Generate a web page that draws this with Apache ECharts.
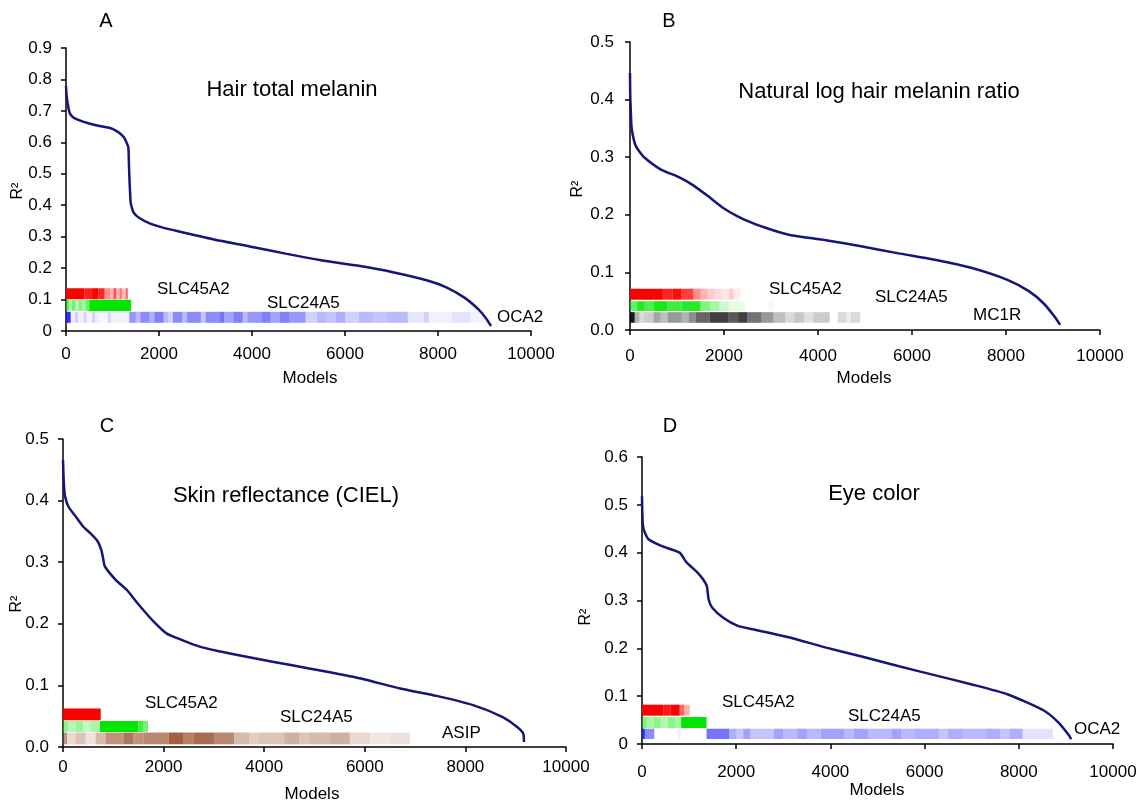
<!DOCTYPE html>
<html>
<head>
<meta charset="utf-8">
<script src="https://cdn.jsdelivr.net/npm/echarts@6/dist/echarts.min.js"></script>
<style>html,body{margin:0;padding:0;background:#fff}#chart{width:1141px;height:805px}</style>
</head>
<body>
<div id="chart"></div>
<script>
// ---------- DATA ----------
// Curves: [model rank, R²]
const curveA = [[0,0.78],[15,0.745],[40,0.72],[75,0.695],[150,0.68],[290,0.67],[500,0.66],[720,0.652],[900,0.647],[1000,0.643],[1150,0.63],[1250,0.615],[1300,0.6],[1340,0.585],[1350,0.55],[1360,0.5],[1375,0.45],[1390,0.41],[1420,0.39],[1460,0.375],[1570,0.36],[1800,0.342],[2030,0.331],[2410,0.317],[3180,0.291],[3950,0.269],[4720,0.246],[5490,0.225],[6260,0.208],[7030,0.187],[7790,0.16],[8180,0.139],[8560,0.107],[8870,0.069],[9020,0.043],[9140,0.016]];
const curveB = [[0,0.446],[5,0.406],[15,0.385],[30,0.355],[60,0.338],[110,0.322],[180,0.312],[300,0.3],[650,0.279],[1050,0.265],[1330,0.252],[1650,0.233],[2000,0.211],[2300,0.197],[2625,0.185],[3012,0.174],[3398,0.165],[4170,0.156],[4942,0.145],[5714,0.133],[6486,0.122],[7259,0.108],[8031,0.087],[8494,0.067],[8803,0.046],[9035,0.023],[9151,0.009]];
const curveC = [[0,0.466],[10,0.44],[20,0.423],[40,0.407],[109,0.39],[254,0.374],[399,0.358],[543,0.347],[688,0.334],[761,0.32],[800,0.305],[833,0.293],[1051,0.271],[1268,0.255],[1486,0.233],[1775,0.206],[2065,0.184],[2355,0.174],[2717,0.163],[3080,0.156],[3804,0.144],[4529,0.133],[5254,0.122],[5978,0.11],[6703,0.095],[7428,0.083],[8152,0.068],[8732,0.049],[9022,0.033],[9150,0.022],[9165,0.008]];
const curveD = [[0,0.518],[5,0.49],[20,0.456],[60,0.442],[139,0.428],[410,0.414],[797,0.4],[951,0.379],[1183,0.358],[1299,0.344],[1377,0.33],[1415,0.302],[1493,0.285],[1725,0.264],[2034,0.247],[2343,0.24],[3117,0.223],[3890,0.202],[4664,0.183],[5437,0.163],[6210,0.144],[6984,0.125],[7757,0.104],[8530,0.07],[8840,0.045],[9072,0.017],[9110,0.01]];

// Gene bands: [start model, end model, intensity]
const bandA_SLC45A2 = [[0,400,1],[400,560,0.88],[560,700,1],[700,830,0.85],[830,950,0.45],[950,1020,0.3],[1020,1080,0.7],[1080,1150,0.3],[1150,1200,0.55],[1200,1280,0.25],[1280,1330,0.6]];
const bandA_SLC24A5 = [[0,60,0.7],[60,130,0.3],[130,200,0.55],[200,280,0.3],[280,350,0.5],[350,420,0.35],[420,500,0.6],[500,1400,1]];
const bandA_OCA2 = [[0,100,0.9],[100,200,0.08],[200,260,0.2],[260,380,0.06],[380,440,0.18],[440,560,0.05],[560,620,0.2],[620,700,0.08],[700,900,0.04],[900,960,0.18],[960,1360,0.06],[1360,1500,0.45],[1500,1600,0.3],[1600,1800,0.5],[1800,1900,0.35],[1900,2100,0.55],[2100,2200,0.3],[2200,2300,0.2],[2300,2500,0.5],[2500,2600,0.3],[2600,2900,0.5],[2900,3000,0.25],[3000,3300,0.5],[3300,3400,0.6],[3400,3600,0.4],[3600,3800,0.55],[3800,3900,0.3],[3900,4200,0.45],[4200,4400,0.55],[4400,4600,0.4],[4600,4800,0.55],[4800,5150,0.45],[5150,5400,0.2],[5400,5600,0.3],[5600,5800,0.25],[5800,6000,0.35],[6000,6300,0.2],[6300,6600,0.3],[6600,6900,0.25],[6900,7350,0.3],[7350,7700,0.1],[7700,7800,0.2],[7800,8300,0.06],[8300,8700,0.12],[8700,9000,0.05]];
const bandB_SLC45A2 = [[0,700,1],[700,900,0.85],[900,1100,0.95],[1100,1350,0.75],[1350,1500,0.45],[1500,1650,0.3],[1650,1800,0.2],[1800,1950,0.15],[1950,2100,0.1],[2100,2200,0.2],[2200,2350,0.08]];
const bandB_SLC24A5 = [[0,150,0.6],[150,300,0.85],[300,500,0.7],[500,800,0.9],[800,1100,0.75],[1100,1500,0.85],[1500,1700,0.5],[1700,1900,0.35],[1900,2100,0.2],[2100,2450,0.1],[2950,3050,0.08]];
const bandB_MC1R = [[0,100,0.9],[100,200,0.3],[200,300,0.15],[300,500,0.2],[500,650,0.35],[650,800,0.25],[800,1100,0.4],[1100,1250,0.3],[1250,1400,0.45],[1400,1700,0.6],[1700,2100,0.75],[2100,2300,0.65],[2300,2500,0.75],[2500,2800,0.55],[2800,3050,0.4],[3050,3300,0.25],[3300,3500,0.15],[3500,3700,0.22],[3700,3900,0.12],[3900,4250,0.2],[4420,4600,0.15],[4600,4700,0.08],[4700,4900,0.15]];
const bandC_SLC45A2 = [[0,750,1]];
const bandC_SLC24A5 = [[0,100,0.45],[100,250,0.3],[250,400,0.4],[400,550,0.25],[550,735,0.35],[735,1500,1],[1500,1600,0.75],[1600,1690,0.55]];
const bandC_ASIP = [[0,80,0.55],[80,250,0.2],[250,450,0.3],[450,650,0.15],[650,850,0.35],[850,1200,0.55],[1200,1400,0.7],[1400,1600,0.55],[1600,2100,0.6],[2100,2400,0.8],[2400,2600,0.65],[2600,3000,0.75],[3000,3400,0.6],[3400,3700,0.35],[3700,3900,0.25],[3900,4400,0.3],[4400,4700,0.4],[4700,4900,0.3],[4900,5300,0.35],[5300,5700,0.4],[5700,6100,0.2],[6100,6500,0.12],[6500,6900,0.15]];
const bandD_SLC45A2 = [[0,450,1],[450,600,0.9],[600,800,1],[800,900,0.6],[900,1015,0.3]];
const bandD_SLC24A5 = [[0,100,0.5],[100,250,0.35],[250,400,0.45],[400,550,0.3],[550,700,0.45],[700,830,0.35],[830,1370,1]];
const bandD_OCA2 = [[0,60,0.9],[60,260,0.5],[760,820,0.08],[1370,1850,0.6],[1850,2000,0.35],[2000,2150,0.25],[2150,2300,0.4],[2300,2800,0.25],[2800,3000,0.4],[3000,3300,0.3],[3300,3500,0.4],[3500,3800,0.3],[3800,4300,0.4],[4300,4500,0.3],[4500,4800,0.4],[4800,5300,0.3],[5300,5500,0.4],[5500,5800,0.3],[5800,6300,0.35],[6300,6500,0.25],[6500,6800,0.35],[6800,7300,0.3],[7300,7600,0.35],[7600,7800,0.25],[7800,8080,0.35],[8080,8720,0.12]];

const panelLetters = ['A','B','C','D'];
const panelTitles = ['Hair total melanin','Natural log hair melanin ratio','Skin reflectance (CIEL)','Eye color'];
const yMax = [0.9, 0.5, 0.5, 0.6];
const xLabel = 'Models';
const yLabel = 'R²';

// ---------- LAYOUT / STYLE ----------
const FONT = '"Liberation Sans", Arial, sans-serif';
const grids = [
  {left:66, top:48, width:465, height:283},
  {left:630, top:42, width:470, height:288},
  {left:63, top:439, width:503, height:308},
  {left:642, top:457, width:471, height:287}
];
const xLabelMargin = [15, 18, 12, 20];
const yLabelMargin = [14, 16, 14, 14];
const zeroPlain = [true, false, false, true];

const bandSpecs = [
  {grid:0, data:bandA_SLC45A2, y:[0.101,0.136], color:'#ff0000'},
  {grid:0, data:bandA_SLC24A5, y:[0.064,0.099], color:'#00e600'},
  {grid:0, data:bandA_OCA2,    y:[0.026,0.061], color:'#1818f5'},
  {grid:1, data:bandB_SLC45A2, y:[0.0526,0.0717], color:'#ff0000'},
  {grid:1, data:bandB_SLC24A5, y:[0.033,0.050], color:'#00e600'},
  {grid:1, data:bandB_MC1R,    y:[0.0125,0.031], color:'#000000'},
  {grid:2, data:bandC_SLC45A2, y:[0.0434,0.0625], color:'#ff0000'},
  {grid:2, data:bandC_SLC24A5, y:[0.0245,0.0424], color:'#00e600'},
  {grid:2, data:bandC_ASIP,    y:[0.0044,0.0235], color:'#8a3a12'},
  {grid:3, data:bandD_SLC45A2, y:[0.0592,0.0822], color:'#ff0000'},
  {grid:3, data:bandD_SLC24A5, y:[0.0335,0.0565], color:'#00e600'},
  {grid:3, data:bandD_OCA2,    y:[0.0105,0.032], color:'#1818f5'}
];
const curves = [curveA, curveB, curveC, curveD];

const xAxes = grids.map((g,i)=>({
  type:'value', gridIndex:i, min:0, max:10000, interval:2000,
  axisLine:{show:true, onZero:false, lineStyle:{color:'#000', width:1.5}},
  axisTick:{show:true, inside:false, length:5, lineStyle:{color:'#000', width:1.5}},
  axisLabel:{color:'#000', fontSize:17, fontFamily:FONT, margin:xLabelMargin[i],
    formatter:(v)=> String(Math.round(v))},
  splitLine:{show:false}
}));
const yAxes = grids.map((g,i)=>({
  type:'value', gridIndex:i, min:0, max:yMax[i], interval:0.1,
  axisLine:{show:true, onZero:false, lineStyle:{color:'#000', width:1.5}},
  axisTick:{show:true, inside:false, length:5, lineStyle:{color:'#000', width:1.5}},
  axisLabel:{color:'#000', fontSize:17, fontFamily:FONT, margin:yLabelMargin[i],
    formatter:(v)=> (zeroPlain[i] && Math.abs(v)<1e-9) ? '0' : v.toFixed(1)},
  splitLine:{show:false}
}));

const series = [];
bandSpecs.forEach(b=>{
  series.push({
    type:'custom', xAxisIndex:b.grid, yAxisIndex:b.grid,
    data:b.data, encode:{x:[0,1]}, silent:true, z:1,
    renderItem:(params, api)=>{
      const p0 = api.coord([api.value(0), b.y[1]]);
      const p1 = api.coord([api.value(1), b.y[0]]);
      return {type:'rect', shape:{x:p0[0], y:p0[1], width:p1[0]-p0[0], height:p1[1]-p0[1]},
        style:{fill:b.color, opacity:api.value(2)}};
    }
  });
});
curves.forEach((c,i)=>{
  series.push({type:'line', xAxisIndex:i, yAxisIndex:i, data:c, showSymbol:false, symbol:'none',
    smooth:0.2, z:5, lineStyle:{color:'#15157a', width:2.5}});
});

function txt(str, x, y, size, align, rot){
  return {type:'text', x:x, y:y, rotation:rot||0, z:100,
    style:{text:str, fill:'#000', font:size+'px '+FONT, align:align||'center', verticalAlign:'middle'}};
}
const graphics = [
  txt(panelLetters[0],106,21,20), txt(panelLetters[1],669,21,20), txt(panelLetters[2],107,426,20), txt(panelLetters[3],670,426,20),
  txt(panelTitles[0],292,90,22), txt(panelTitles[1],879,92,22), txt(panelTitles[2],286,496,22), txt(panelTitles[3],874,494,22),
  txt(xLabel,310,378,17), txt(xLabel,864,378,17), txt(xLabel,312,794,17), txt(xLabel,877,790,17),
  txt(yLabel,18,191,16,'center',Math.PI/2), txt(yLabel,578,189,16,'center',Math.PI/2),
  txt(yLabel,17,604,16,'center',Math.PI/2), txt(yLabel,586,617,16,'center',Math.PI/2),
  txt('SLC45A2',157,289,17,'left'), txt('SLC24A5',267,303,17,'left'), txt('OCA2',497,317,17,'left'),
  txt('SLC45A2',769,289,17,'left'), txt('SLC24A5',875,297,17,'left'), txt('MC1R',973,315,17,'left'),
  txt('SLC45A2',145,703,17,'left'), txt('SLC24A5',280,717,17,'left'), txt('ASIP',442,733,17,'left'),
  txt('SLC45A2',722,702,17,'left'), txt('SLC24A5',848,716,17,'left'), txt('OCA2',1074,729,17,'left')
];

const chart = echarts.init(document.getElementById('chart'), null, {renderer:'canvas'});
chart.setOption({
  animation:false,
  backgroundColor:'#fff',
  grid:grids, xAxis:xAxes, yAxis:yAxes, series:series, graphic:graphics
});
</script>
</body>
</html>
